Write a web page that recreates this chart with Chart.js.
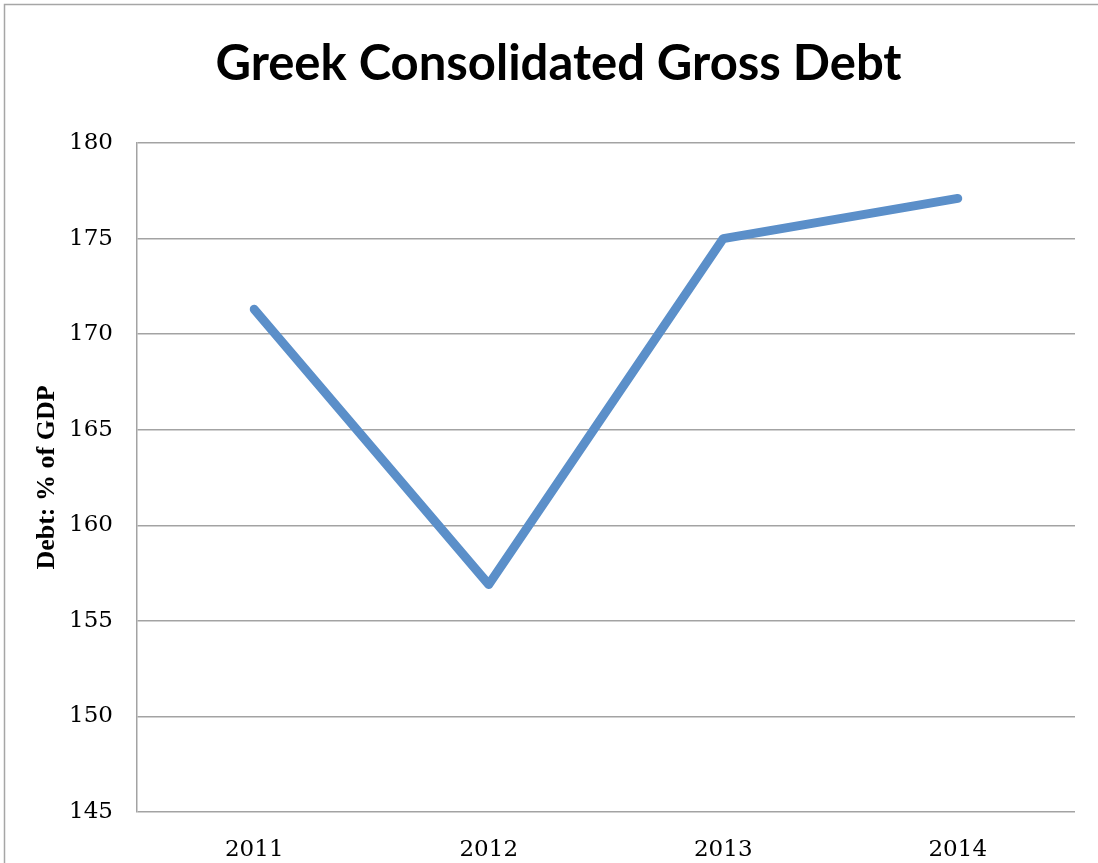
<!DOCTYPE html>
<html>
<head>
<meta charset="utf-8">
<title>Greek Consolidated Gross Debt</title>
<script src="https://cdn.jsdelivr.net/npm/chart.js@4"></script>
<style>
  html, body { margin: 0; padding: 0; background: #fff; }
  #wrap { width: 1098px; height: 863px; position: relative; }
</style>
</head>
<body>
<div id="wrap"><canvas id="debt-chart"></canvas></div>
<script>
// Data
const years = ['2011', '2012', '2013', '2014'];
const debtPctGdp = [171.3, 156.9, 175.0, 177.1];
const yMin = 145;
const yMax = 180;
const yStep = 5;

const gridColor = '#a3a3a3';
const tickFont = { family: '"DejaVu Serif", serif', size: 23 };
const padLeft = 42;

// Grey frame around the whole chart
const framePlugin = {
  id: 'frame',
  beforeDraw(chart) {
    const ctx = chart.ctx;
    ctx.save();
    ctx.strokeStyle = '#a6a6a6';
    ctx.lineWidth = 1.5;
    ctx.strokeRect(4.5, 4.5, chart.width + 10, chart.height + 10);
    ctx.restore();
  }
};

const ctx = document.getElementById('debt-chart').getContext('2d');
new Chart(ctx, {
  type: 'line',
  data: {
    labels: years,
    datasets: [{
      label: 'Debt',
      data: debtPctGdp,
      borderColor: '#5b8fc9',
      borderWidth: 9,
      borderCapStyle: 'round',
      borderJoinStyle: 'round',
      pointRadius: 0,
      tension: 0,
      fill: false
    }]
  },
  options: {
    responsive: true,
    maintainAspectRatio: false,
    animation: false,
    layout: { padding: { left: padLeft, right: 23, top: 0, bottom: 0 } },
    plugins: {
      legend: { display: false },
      tooltip: { enabled: false },
      title: {
        display: true,
        text: 'Greek Consolidated Gross Debt',
        color: '#000',
        font: { family: 'Lato, sans-serif', size: 49, weight: 'bold', lineHeight: 1.2 },
        padding: { top: 35, bottom: 143 - 35 - 58.8 }
      }
    },
    scales: {
      x: {
        offset: true,
        grid: { display: false, drawTicks: false },
        border: { display: false },
        ticks: { color: '#000', font: tickFont, padding: 24, maxRotation: 0 },
        afterFit(scale) { scale.height = 51; }
      },
      y: {
        min: yMin,
        max: yMax,
        grid: { color: gridColor, lineWidth: 1.5, drawTicks: false },
        border: { display: true, color: gridColor, width: 1.5 },
        ticks: { stepSize: yStep, color: '#000', font: tickFont, padding: 24 },
        title: {
          display: true,
          text: 'Debt: % of GDP',
          color: '#000',
          font: { family: '"Liberation Serif", serif', size: 26, weight: 'bold' },
          padding: { top: -10, bottom: 0 }
        },
        afterFit(scale) { scale.width = 137 - padLeft; }
      }
    }
  },
  plugins: [framePlugin]
});
</script>
</body>
</html>
